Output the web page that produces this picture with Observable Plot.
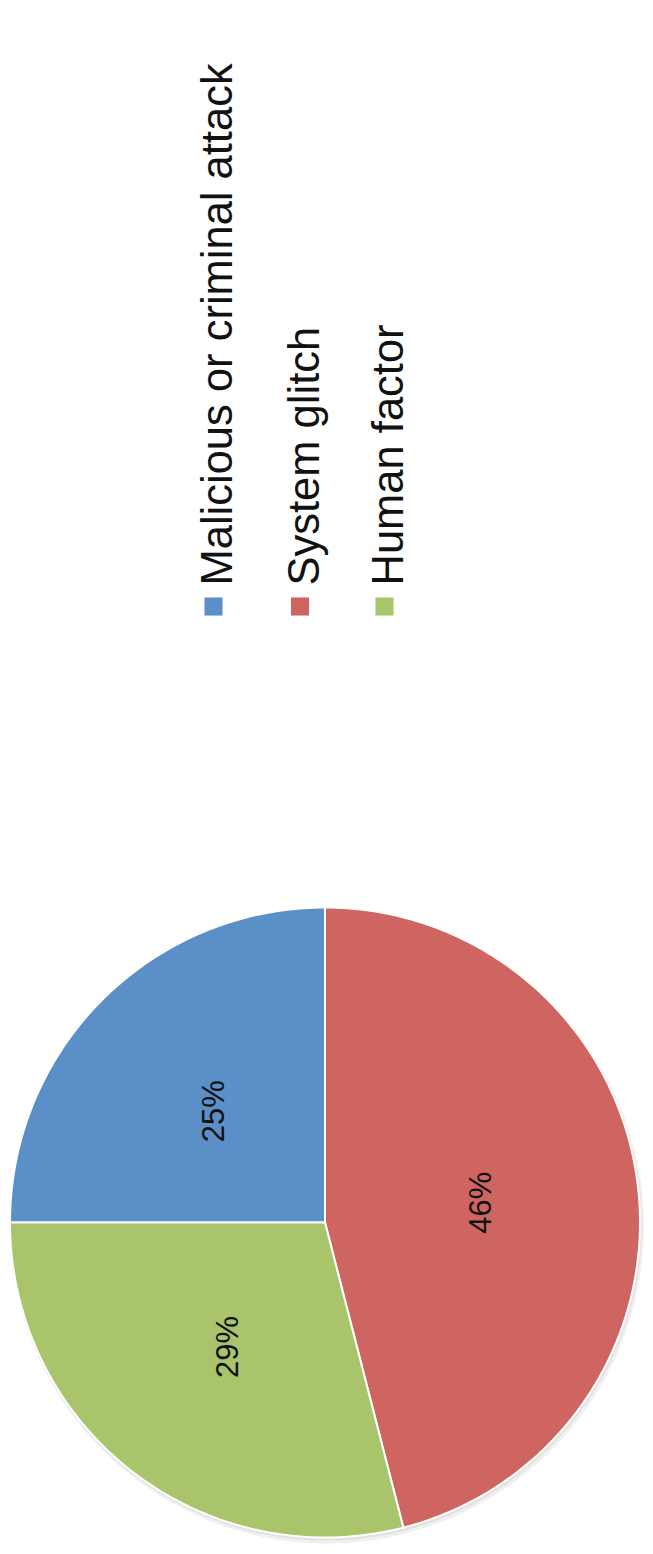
<!DOCTYPE html>
<html>
<head>
<meta charset="utf-8">
<script src="https://cdn.jsdelivr.net/npm/d3@7"></script>
<script src="https://cdn.jsdelivr.net/npm/@observablehq/plot@0.6"></script>
<style>
  html, body { margin: 0; padding: 0; background: #fff; }
  svg { display: block; }
</style>
</head>
<body>
<div id="chart"></div>
<script>
// ---- data ----
const categories = ["Malicious or criminal attack", "System glitch", "Human factor"];
const values = [25, 46, 29];
const colors = ["#5b8fc8", "#cf6560", "#a9c46a"];

// ---- layout ----
const W = 653, H = 1554;
const cx = 324.5, cy = 1222, R = 315;
const legendX = [213, 299.5, 384];
const legendSquareY = 606;
const legendTextY = 585;

const pie = d3.pie().sort(null).startAngle(-Math.PI / 2).endAngle(1.5 * Math.PI)(values);
const pt = (a, r) => ({x: cx + r * Math.sin(a), y: cy - r * Math.cos(a)});

const slicePts = [];
pie.forEach((s, i) => {
  const n = Math.max(2, Math.ceil((s.endAngle - s.startAngle) / (Math.PI / 180)));
  slicePts.push({name: categories[i], ...pt(0, 0)});
  for (let k = 0; k <= n; k++) {
    const a = s.startAngle + (s.endAngle - s.startAngle) * k / n;
    slicePts.push({name: categories[i], ...pt(a, R)});
  }
});

const labels = pie.map((s, i) => ({
  text: values[i] + "%",
  ...pt((s.startAngle + s.endAngle) / 2, R * 0.5)
}));

const legend = categories.map((c, i) => ({name: c, x: legendX[i]}));

const chart = Plot.plot({
  width: W,
  height: H,
  margin: 0,
  style: {fontFamily: "'Liberation Sans', Arial, sans-serif", background: "#fff"},
  x: {domain: [0, W], range: [0, W], axis: null},
  y: {domain: [0, H], range: [0, H], axis: null},
  color: {domain: categories, range: colors},
  marks: [
    // soft shadow
    Plot.dot([{x: cx, y: cy}], {x: "x", y: "y", r: R + 2, fill: "#000", fillOpacity: 0.06, dx: 2, dy: 4}),
    Plot.dot([{x: cx, y: cy}], {x: "x", y: "y", r: R + 1, fill: "#000", fillOpacity: 0.06, dx: 1, dy: 2}),
    Plot.line(slicePts, {
      x: "x", y: "y", z: "name", fill: "name",
      stroke: "white", strokeWidth: 2, strokeLinejoin: "round",
      curve: "linear-closed"
    }),
    Plot.text(labels, {
      x: "x", y: "y", text: "text", rotate: -90,
      fontSize: 31, fill: "#111", textAnchor: "middle", lineAnchor: "middle"
    }),
    Plot.dot(legend, {
      x: "x", y: () => legendSquareY, symbol: "square", r: 10.2, fill: "name"
    }),
    Plot.text(legend, {
      x: d => d.x + 5, y: () => legendTextY, text: "name", rotate: -90,
      fontSize: 43.5, fill: "#111", textAnchor: "start", lineAnchor: "middle"
    })
  ]
});
document.getElementById("chart").appendChild(chart);
</script>
</body>
</html>
